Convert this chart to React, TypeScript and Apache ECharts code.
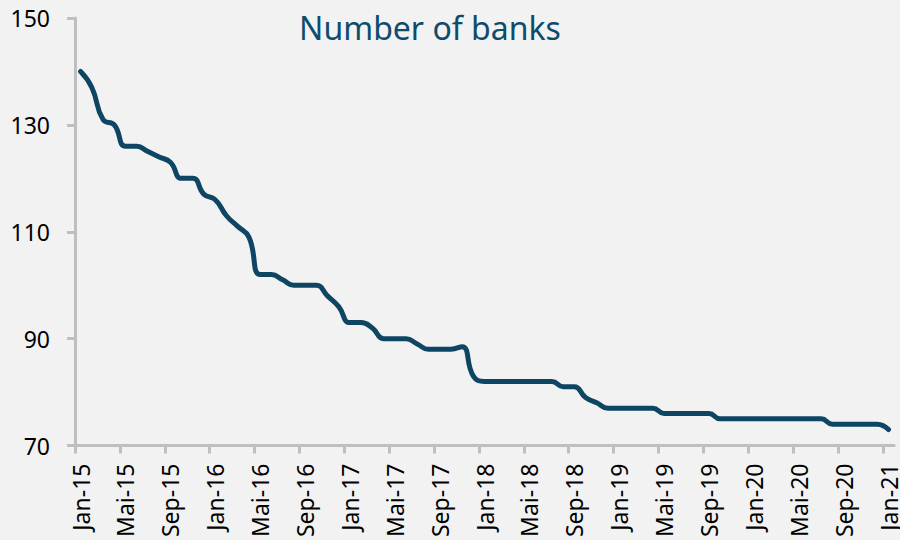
import React, { useEffect, useRef } from "react";
import * as echarts from "echarts";

const monthNames = ["Jan", "Feb", "Mrz", "Apr", "Mai", "Jun", "Jul", "Aug", "Sep", "Okt", "Nov", "Dez"];
const years = ["15", "16", "17", "18", "19", "20", "21"];
const categories: string[] = years
  .flatMap((y) => monthNames.map((m) => `${m}-${y}`))
  .slice(0, 73);

const bankCounts = [
  140, 137, 131, 130, 126, 126, 125, 124, 123, 120, 120, 117,
  116, 113, 111, 109, 102, 102, 101, 100, 100, 100, 98, 96,
  93, 93, 92, 90, 90, 90, 89, 88, 88, 88, 88.5, 83,
  82, 82, 82, 82, 82, 82, 82, 81, 81, 79, 78, 77,
  77, 77, 77, 77, 76, 76, 76, 76, 76, 75, 75, 75,
  75, 75, 75, 75, 75, 75, 75, 74, 74, 74, 74, 74,
  73,
];

const tickMonths = [0, 4, 8, 12, 16, 20, 24, 28, 32, 36, 40, 44, 48, 52, 56, 60, 64, 68, 72];
const yMin = 70;
const yMax = 150;
const yStep = 20;
const titleText = "Number of banks";

export default function App() {
  const ref = useRef<HTMLDivElement>(null);
  useEffect(() => {
    if (!ref.current) return;
    const chart = echarts.init(ref.current, null, { renderer: "svg" });
    const font = "Noto Sans";
    const axisGray = "#bfbfbf";
    chart.setOption({
      animation: false,
      backgroundColor: "#f2f2f2",
      grid: { left: 75, right: 5, top: 18, bottom: 91, containLabel: false },
      graphic: [
        {
          type: "text",
          x: 430,
          y: 27,
          style: {
            text: titleText,
            fontFamily: font,
            fontSize: 32,
            fill: "#0f4c6b",
            textAlign: "center",
            textVerticalAlign: "middle",
          },
        },
      ],
      xAxis: {
        type: "value",
        min: 0,
        max: categories.length,
        axisLine: { show: true, onZero: false, lineStyle: { color: axisGray, width: 3 } },
        axisTick: {
          show: true,
          length: 8,
          customValues: tickMonths,
          lineStyle: { color: axisGray, width: 3 },
        },
        axisLabel: {
          customValues: tickMonths.map((i) => i + 0.5),
          formatter: (v: number) => categories[Math.floor(v)] ?? "",
          rotate: 90,
          margin: 18,
          fontSize: 23,
          fontFamily: font,
          color: "#000",
        },
        splitLine: { show: false },
      },
      yAxis: {
        type: "value",
        min: yMin,
        max: yMax,
        interval: yStep,
        axisLine: { show: true, onZero: false, lineStyle: { color: axisGray, width: 3 } },
        axisTick: { show: true, length: 8, lineStyle: { color: axisGray, width: 3 } },
        axisLabel: { margin: 25, fontSize: 23, fontFamily: font, color: "#000" },
        splitLine: { show: false },
      },
      series: [
        {
          type: "line",
          data: bankCounts.map((v, i) => [i + 0.5, v]),
          smooth: 0.5,
          symbol: "none",
          lineStyle: { color: "#0d4563", width: 5, cap: "round", join: "round" },
        },
      ],
    });
    return () => chart.dispose();
  }, []);
  return (
    <div
      ref={ref}
      style={{ position: "fixed", left: 0, top: 0, width: 900, height: 540 }}
    />
  );
}
